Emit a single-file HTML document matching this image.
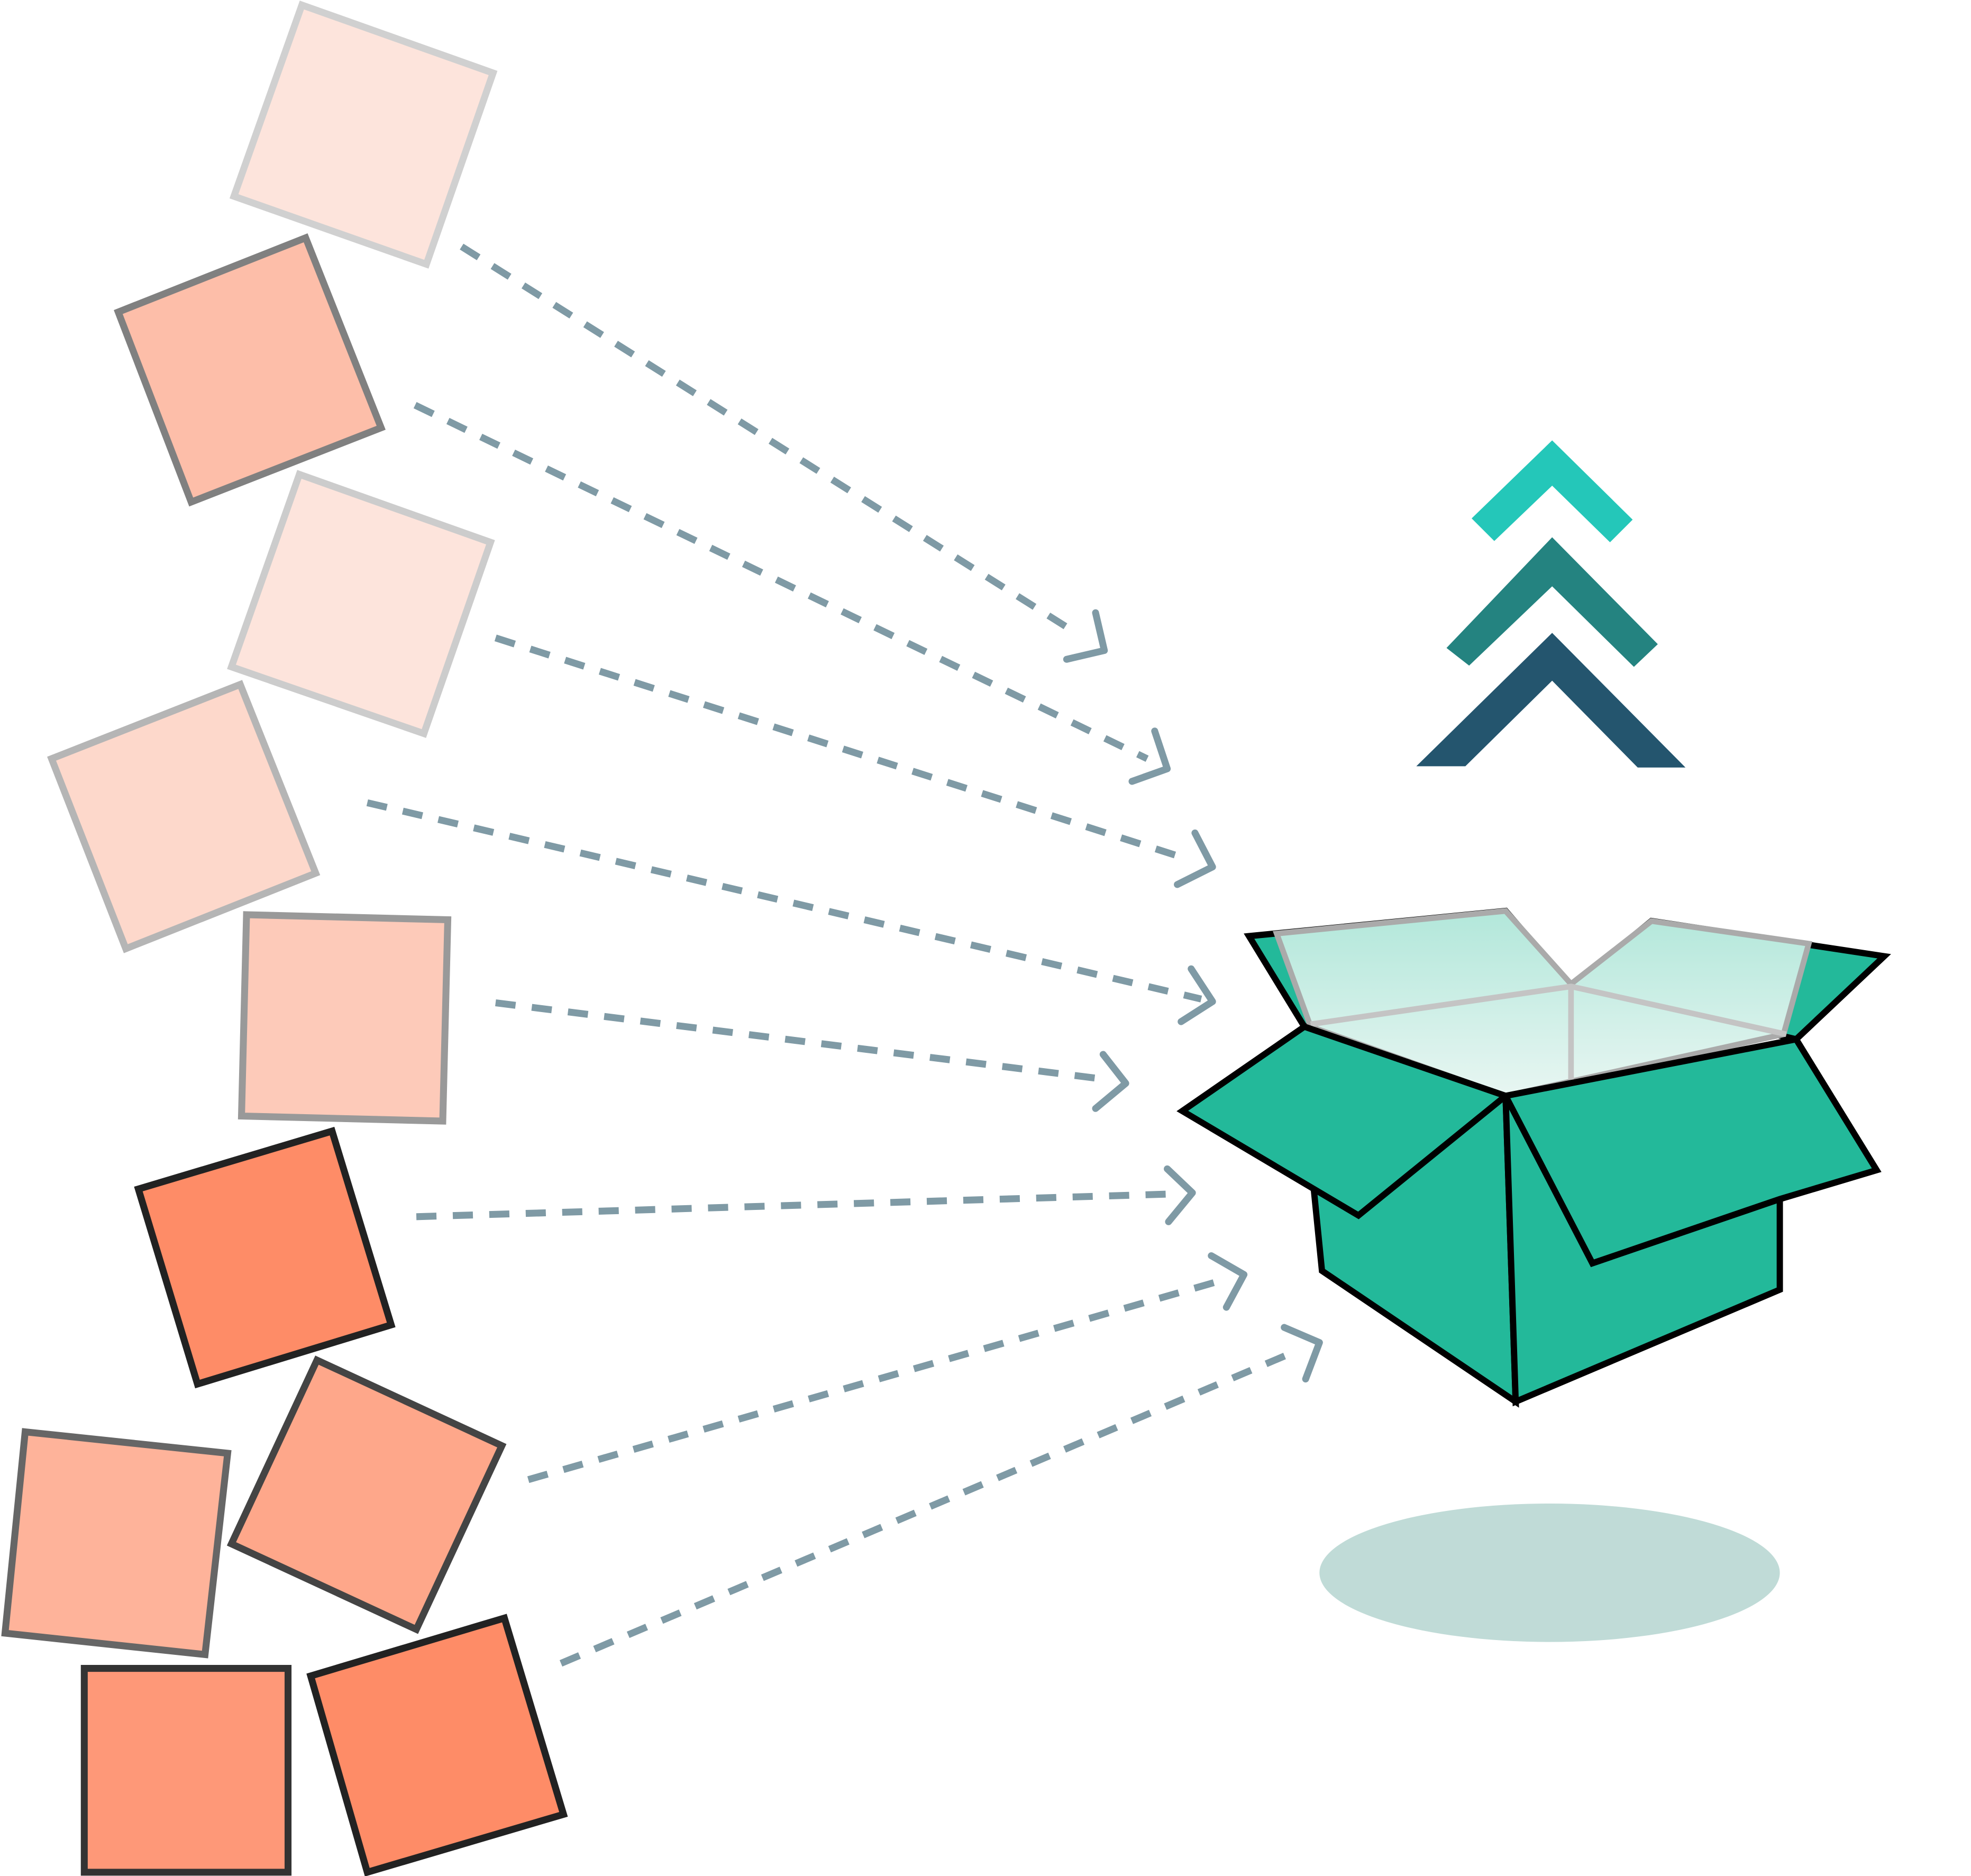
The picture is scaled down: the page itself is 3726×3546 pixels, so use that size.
<!DOCTYPE html>
<html><head><meta charset="utf-8"><style>
html,body{margin:0;padding:0;background:#fff;}
svg{display:block;}
</style></head><body>
<svg width="3726" height="3546" viewBox="0 0 1567 1491" preserveAspectRatio="none" xmlns="http://www.w3.org/2000/svg">
<defs>
<linearGradient id="lg" x1="0" y1="0" x2="0" y2="1">
<stop offset="0" stop-color="#b2e7da"/><stop offset="1" stop-color="#e8f6f2"/>
</linearGradient>
</defs>
<g stroke-width="5.5" stroke-linejoin="miter">
<polygon points="240,4 392,58 339,210 186,156" fill="#fde4dc" stroke="#d0d0d0"/>
<polygon points="94,248 243,189 303,340 152,399" fill="#fdbea9" stroke="#808080"/>
<polygon points="238,377 390,431 337,583 184,530" fill="#fde4dc" stroke="#cccccc"/>
<polygon points="41,603 191,544 251,694 100,754" fill="#fdd8cb" stroke="#b5b5b5"/>
<polygon points="196,727 356,731 352,891 192,887" fill="#fdcab9" stroke="#999999"/>
<polygon points="110,945 264,899 311,1053 157,1100" fill="#fe8c67" stroke="#222"/>
<polygon points="20,1138 181,1155 163,1315 4,1298" fill="#feb39a" stroke="#666"/>
<polygon points="252,1081 399,1149 331,1295 184,1227" fill="#fea78a" stroke="#444"/>
<polygon points="67,1326 229,1326 229,1488 67,1488" fill="#fe9878" stroke="#333"/>
<polygon points="247,1332 401,1286 448,1442 292,1488" fill="#fe8c67" stroke="#222"/>
</g>
<g stroke="#7f9aa5" stroke-width="5.5" fill="none">
<g stroke-dasharray="16 13">
<line x1="367" y1="196" x2="857" y2="504"/>
<line x1="330" y1="322" x2="912" y2="603"/>
<line x1="394" y1="507" x2="945" y2="683"/>
<line x1="292" y1="638" x2="955" y2="794"/>
<line x1="394" y1="797" x2="880" y2="858"/>
<line x1="331" y1="967" x2="930" y2="949"/>
<line x1="420" y1="1176" x2="970" y2="1018"/>
<line x1="446" y1="1322" x2="1030" y2="1074"/>
</g>
<g stroke-linecap="round" stroke-linejoin="round">
<polyline points="871,487 878,517 848,524"/>
<polyline points="918,581 928,611 900,621"/>
<polyline points="950,662 964,689 936,703"/>
<polyline points="947,770 964,796 939,812"/>
<polyline points="877,838 895,861 871,881"/>
<polyline points="928,929 948,948 929,971"/>
<polyline points="963,998 989,1013 975,1039"/>
<polyline points="1021,1055 1049,1067 1038,1096"/>
</g>
</g>
<polygon points="1170,412 1234,350 1298,413 1280,431 1234,386 1188,430" fill="#24c7b9"/>
<polygon points="1150,515 1234,427 1318,512 1299,530 1234,466 1168,529" fill="#248380"/>
<polygon points="1126,609 1234,503 1340,610 1302,610 1234,541 1165,609" fill="#24556e"/>
<ellipse cx="1232" cy="1250" rx="183" ry="55" fill="#c0dbd7"/>
<g stroke="#000" stroke-width="5" stroke-linejoin="miter" fill="#23b99a">
<polygon points="993,744 1197,724 1249,784 1037,816"/>
<polygon points="1249,784 1313,732 1498,760 1428,826"/>
</g>
<polygon points="1015,742 1197,724 1249,782 1313,732 1438,750 1418,822 1197,871 1042,816" fill="url(#lg)" stroke="#aaaaaa" stroke-width="4.5"/>
<g stroke="#c4c4c4" stroke-width="4.5" fill="none">
<polyline points="1042,814 1249,784 1420,822"/>
<line x1="1249" y1="784" x2="1249" y2="858"/>
</g>
<g stroke="#000" stroke-width="5" stroke-linejoin="miter" fill="#23b99a">
<polygon points="1037,816 1044,940 1051,1010 1205,1114 1197,871"/>
<polygon points="1197,871 1205,1114 1415,1025 1415,952 1428,826"/>
<polygon points="1037,816 1197,871 1080,966 940,883"/>
<polygon points="1197,871 1428,826 1492,930 1415,953 1266,1004"/>
</g>
</svg>
</body></html>
